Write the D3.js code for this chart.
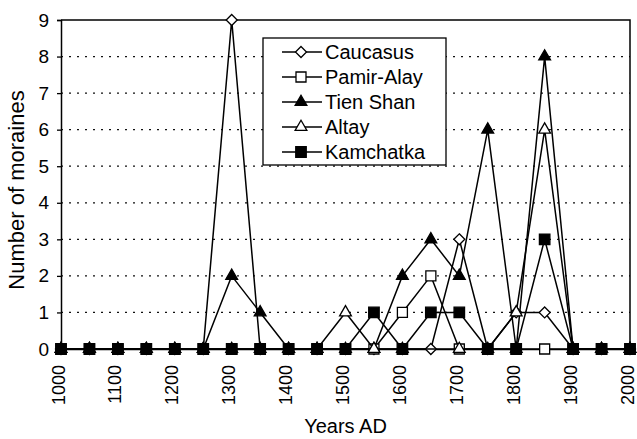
<!DOCTYPE html>
<html>
<head>
<meta charset="utf-8">
<script src="https://cdn.jsdelivr.net/npm/d3@7"></script>
<style>
  body { margin: 0; background: #fff; }
  svg { display: block; font-family: "Liberation Sans", Arial, sans-serif; }
</style>
</head>
<body>
<div id="chart"></div>
<script>
// data
var years = [1000,1050,1100,1150,1200,1250,1300,1350,1400,1450,1500,1550,1600,1650,1700,1750,1800,1850,1900,1950,2000];
var caucasus  = [0,0,0,0,0,0,9,0,0,0,0,0,0,0,3,0,1,1,0,0,0];
var pamirAlay = [0,0,0,0,0,0,0,0,0,0,0,0,1,2,0,0,0,0,0,0,0];
var tienShan  = [0,0,0,0,0,0,2,1,0,0,0,0,2,3,2,6,0,8,0,0,0];
var altay     = [0,0,0,0,0,0,0,0,0,0,1,0,0,null,0,0,1,6,0,0,0];
var kamchatka = [0,0,0,0,0,0,0,0,0,0,0,1,0,1,1,0,0,3,0,0,0];
var seriesNames = ["Caucasus","Pamir-Alay","Tien Shan","Altay","Kamchatka"];
var yTicks = [0,1,2,3,4,5,6,7,8,9];
var xTicks = [1000,1100,1200,1300,1400,1500,1600,1700,1800,1900,2000];

var W = 637, H = 439;
var m = {left: 61, right: 7, top: 20, bottom: 90};

var svg = d3.select("#chart").append("svg")
    .attr("width", W)
    .attr("height", H);

var x = d3.scaleLinear().domain([1000, 2000]).range([m.left, W - m.right]);
var y = d3.scaleLinear().domain([0, 9]).range([H - m.bottom, m.top]);

// dotted gridlines
svg.append("g")
  .selectAll("line")
  .data(yTicks.filter(function(d) { return d > 0 && d < 9; }))
  .join("line")
    .attr("x1", x(1000)).attr("x2", x(2000))
    .attr("y1", function(d) { return y(d); })
    .attr("y2", function(d) { return y(d); })
    .attr("stroke", "#111")
    .attr("stroke-width", 1.3)
    .attr("stroke-dasharray", "2,6");

// frame top + right
svg.append("path")
    .attr("d", "M" + x(1000) + "," + y(9) + "H" + x(2000) + "V" + y(0))
    .attr("fill", "none")
    .attr("stroke", "#000")
    .attr("stroke-width", 1.5);

// y axis
var yAxis = svg.append("g")
    .attr("transform", "translate(" + x(1000) + ",0)")
    .call(d3.axisLeft(y).tickValues(yTicks).tickSize(4).tickPadding(8).tickFormat(d3.format("d")));
yAxis.select(".domain").attr("stroke-width", 1.5);
yAxis.selectAll(".tick line").attr("stroke-width", 1.3);
yAxis.selectAll("text").style("font-size", "19px").attr("fill", "#000").attr("font-family", "Liberation Sans, Arial, sans-serif");

// x axis
var xAxis = svg.append("g")
    .attr("transform", "translate(0," + y(0) + ")")
    .call(d3.axisBottom(x).tickValues(xTicks).tickSize(0).tickFormat(d3.format("d")));
xAxis.select(".domain").attr("stroke-width", 1.5);
xAxis.selectAll("text")
    .style("font-size", "18px")
    .attr("fill", "#000")
    .attr("font-family", "Liberation Sans, Arial, sans-serif")
    .attr("text-anchor", "end")
    .attr("transform", "rotate(-90)")
    .attr("x", -16)
    .attr("y", 0)
    .attr("dy", "0.17em");

// axis titles
svg.append("text")
    .attr("x", (x(1000) + x(2000)) / 2)
    .attr("y", 433)
    .attr("text-anchor", "middle")
    .style("font-size", "20px")
    .text("Years AD");

svg.append("text")
    .attr("transform", "translate(24," + 190 + ") rotate(-90)")
    .attr("text-anchor", "middle")
    .style("font-size", "22px")
    .text("Number of moraines");

// markers
var diamond = {
  draw: function(ctx, size) {
    var r = Math.sqrt(size) / 2;
    ctx.moveTo(0, -r); ctx.lineTo(r, 0); ctx.lineTo(0, r); ctx.lineTo(-r, 0); ctx.closePath();
  }
};
var square = {
  draw: function(ctx, size) {
    var r = Math.sqrt(size) / 2;
    ctx.rect(-r, -r, 2 * r, 2 * r);
  }
};
var styles = [
  {sym: diamond, size: 121, fill: "#fff"},
  {sym: square, size: 100, fill: "#fff"},
  {sym: d3.symbolTriangle, size: 60, fill: "#000"},
  {sym: d3.symbolTriangle, size: 60, fill: "#fff"},
  {sym: square, size: 110, fill: "#000"}
];
var allSeries = [caucasus, pamirAlay, tienShan, altay, kamchatka];

var line = d3.line()
    .x(function(d) { return x(d.year); })
    .y(function(d) { return y(d.value); });

allSeries.forEach(function(vals, i) {
  var pts = years.map(function(yr, j) { return {year: yr, value: vals[j]}; })
      .filter(function(d) { return d.value !== null; });
  var g = svg.append("g");
  g.append("path")
      .datum(pts)
      .attr("d", line)
      .attr("fill", "none")
      .attr("stroke", "#000")
      .attr("stroke-width", 1.5);
  g.selectAll("path.mk")
    .data(pts)
    .join("path")
      .attr("class", "mk")
      .attr("transform", function(d) { return "translate(" + x(d.year) + "," + y(d.value) + ")"; })
      .attr("d", d3.symbol().type(styles[i].sym).size(styles[i].size))
      .attr("fill", styles[i].fill)
      .attr("stroke", "#000")
      .attr("stroke-width", 1.3);
});

// legend
var lg = svg.append("g");
lg.append("rect")
    .attr("x", 263).attr("y", 38)
    .attr("width", 183).attr("height", 127)
    .attr("fill", "#fff")
    .attr("stroke", "#000")
    .attr("stroke-width", 1.3);
seriesNames.forEach(function(name, i) {
  var ry = 52 + i * 25;
  lg.append("line")
      .attr("x1", 282).attr("x2", 322)
      .attr("y1", ry).attr("y2", ry)
      .attr("stroke", "#000").attr("stroke-width", 1.5);
  lg.append("path")
      .attr("transform", "translate(301," + ry + ")")
      .attr("d", d3.symbol().type(styles[i].sym).size(styles[i].size))
      .attr("fill", styles[i].fill)
      .attr("stroke", "#000")
      .attr("stroke-width", 1.3);
  lg.append("text")
      .attr("x", 325)
      .attr("y", ry + 7)
      .style("font-size", "20px")
      .text(name);
});
</script>
</body>
</html>
